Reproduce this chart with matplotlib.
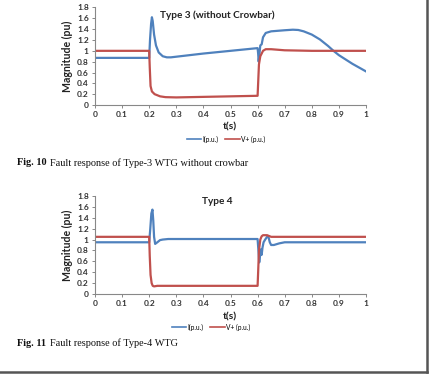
import matplotlib
matplotlib.use("Agg")
import matplotlib.pyplot as plt
from matplotlib.lines import Line2D

# ---- Data: Type 3 (without crowbar) ----
t3_I = [0, 0.2, 0.203, 0.207, 0.21, 0.213, 0.218, 0.225, 0.235, 0.25, 0.265, 0.28, 0.4, 0.5, 0.6,
        0.602, 0.604, 0.607, 0.61, 0.615, 0.62, 0.63, 0.65, 0.7, 0.73, 0.75, 0.77, 0.8, 0.83, 0.86,
        0.88, 0.9, 0.95, 1.0]
I3 = [0.87, 0.87, 1.2, 1.5, 1.62, 1.55, 1.3, 1.1, 0.97, 0.9, 0.88, 0.88, 0.95, 1.0, 1.05,
      0.95, 0.8, 0.95, 1.1, 1.12, 1.25, 1.33, 1.36, 1.38, 1.39, 1.385, 1.36, 1.3, 1.21, 1.09,
      1.0, 0.92, 0.76, 0.62]
t3_V = [0, 0.2, 0.202, 0.205, 0.21, 0.22, 0.24, 0.26, 0.3, 0.4, 0.5, 0.6, 0.602, 0.605, 0.61, 0.62,
        0.63, 0.65, 0.7, 0.8, 1.0]
V3 = [1.0, 1.0, 0.7, 0.35, 0.25, 0.2, 0.16, 0.145, 0.14, 0.15, 0.16, 0.17, 0.4, 0.75, 0.9, 1.0,
      1.03, 1.03, 1.01, 1.0, 1.0]

# ---- Data: Type 4 ----
t4_I = [0, 0.2, 0.204, 0.208, 0.212, 0.215, 0.218, 0.222, 0.23, 0.24, 0.25, 0.27, 0.6,
        0.603, 0.606, 0.609, 0.612, 0.615, 0.618, 0.622, 0.628, 0.635, 0.64, 0.645, 0.65, 0.66, 0.68, 0.7, 1.0]
I4 = [0.95, 0.95, 1.2, 1.48, 1.55, 1.35, 1.05, 0.92, 0.95, 0.99, 1.0, 1.01, 1.01,
      0.8, 0.58, 0.7, 0.82, 0.72, 0.85, 0.95, 1.0, 1.05, 1.05, 0.95, 0.9, 0.9, 0.93, 0.95, 0.95]
t4_V = [0, 0.2, 0.202, 0.205, 0.209, 0.213, 0.218, 0.23, 0.6, 0.602, 0.605, 0.61, 0.615, 0.62,
        0.635, 0.65, 1.0]
V4 = [1.05, 1.05, 0.7, 0.35, 0.2, 0.15, 0.14, 0.15, 0.15, 0.4, 0.8, 1.0, 1.06, 1.08,
      1.08, 1.05, 1.05]

x_ticks = [0, 0.1, 0.2, 0.3, 0.4, 0.5, 0.6, 0.7, 0.8, 0.9, 1]
x_labels = ["0", "0.1", "0.2", "0.3", "0.4", "0.5", "0.6", "0.7", "0.8", "0.9", "1"]
y_ticks = [0, 0.2, 0.4, 0.6, 0.8, 1.0, 1.2, 1.4, 1.6, 1.8]
y_labels = ["0", "0.2", "0.4", "0.6", "0.8", "1", "1.2", "1.4", "1.6", "1.8"]

BLUE = "#4f81bd"
RED = "#c0504d"
SANS = ["Lato", "DejaVu Sans"]
SERIF = ["Liberation Serif", "DejaVu Serif"]

fig = plt.figure(figsize=(4.30, 3.77), dpi=100)
W, H = 430, 377

def fx(px):
    return px / W

def fy(py):
    return 1 - py / H

def make_axes(top_px, bot_px, title, t_I, I, t_V, V, title_y, tlabel_y, leg_y, leg_x, caption_y, caption_num, caption_txt):
    ax = fig.add_axes([fx(95), fy(bot_px), fx(366) - fx(95), fy(top_px) - fy(bot_px)])
    ax.plot(t_I, I, color=BLUE, lw=1.6)
    ax.plot(t_V, V, color=RED, lw=1.6)
    ax.set_xlim(0, 1)
    ax.set_ylim(0, 1.8)
    ax.set_xticks(x_ticks)
    ax.set_xticklabels(x_labels)
    ax.set_yticks(y_ticks)
    ax.set_yticklabels(y_labels)
    for s in ["top", "right"]:
        ax.spines[s].set_visible(False)
    for s in ["left", "bottom"]:
        ax.spines[s].set_color("#888888")
        ax.spines[s].set_linewidth(0.8)
    ax.tick_params(axis="both", length=2.5, width=0.7, color="#888888", labelsize=6, pad=2)
    for lab in ax.get_xticklabels() + ax.get_yticklabels():
        lab.set_fontfamily(SANS)
        lab.set_fontweight("bold")
        lab.set_color("#333333")
    ax.set_ylabel("Magnitude (pu)", fontsize=7.6, fontweight="bold", family=SANS, labelpad=3, color="#222222")
    fig.text(fx(217), fy(title_y), title, fontsize=7.2, fontweight="bold", family=SANS,
             ha="center", va="center", color="#222222")
    fig.text(fx(230), fy(tlabel_y), "t(s)", fontsize=7.5, fontweight="bold", family=SANS,
             ha="center", va="center", color="#222222")
    handles = [Line2D([], [], color=BLUE, lw=1.2), Line2D([], [], color=RED, lw=1.2)]
    fig.legend(handles, ["I(p.u.)", "V+ (p.u.)"], loc="center", bbox_to_anchor=(fx(leg_x), fy(leg_y)),
               ncol=2, frameon=False, prop={"family": SANS, "size": 4.8}, handlelength=2.2,
               handletextpad=0.2, columnspacing=1.0)
    fig.text(fx(17), fy(caption_y), caption_num, fontsize=7.4, fontweight="bold", family=SERIF,
             ha="left", va="center", color="#111111")
    fig.text(fx(50), fy(caption_y), caption_txt, fontsize=7.4, family=SERIF,
             ha="left", va="center", color="#111111")
    return ax

make_axes(7.5, 105, "Type 3 (without Crowbar)", t3_I, I3, t3_V, V3,
          15, 127, 139, 226, 163, "Fig. 10", "Fault response of Type-3 WTG without crowbar")
make_axes(196, 294, "Type 4", t4_I, I4, t4_V, V4,
          201, 317, 327, 211, 343, "Fig. 11", "Fault response of Type-4 WTG")

# page border / shadow
fig.add_artist(Line2D([fx(427), fx(427)], [fy(0), fy(372)], color="#555555", lw=1.8))
fig.add_artist(Line2D([fx(0), fx(427)], [fy(372), fy(372)], color="#555555", lw=1.8))

fig.savefig("out.png", dpi=100)
